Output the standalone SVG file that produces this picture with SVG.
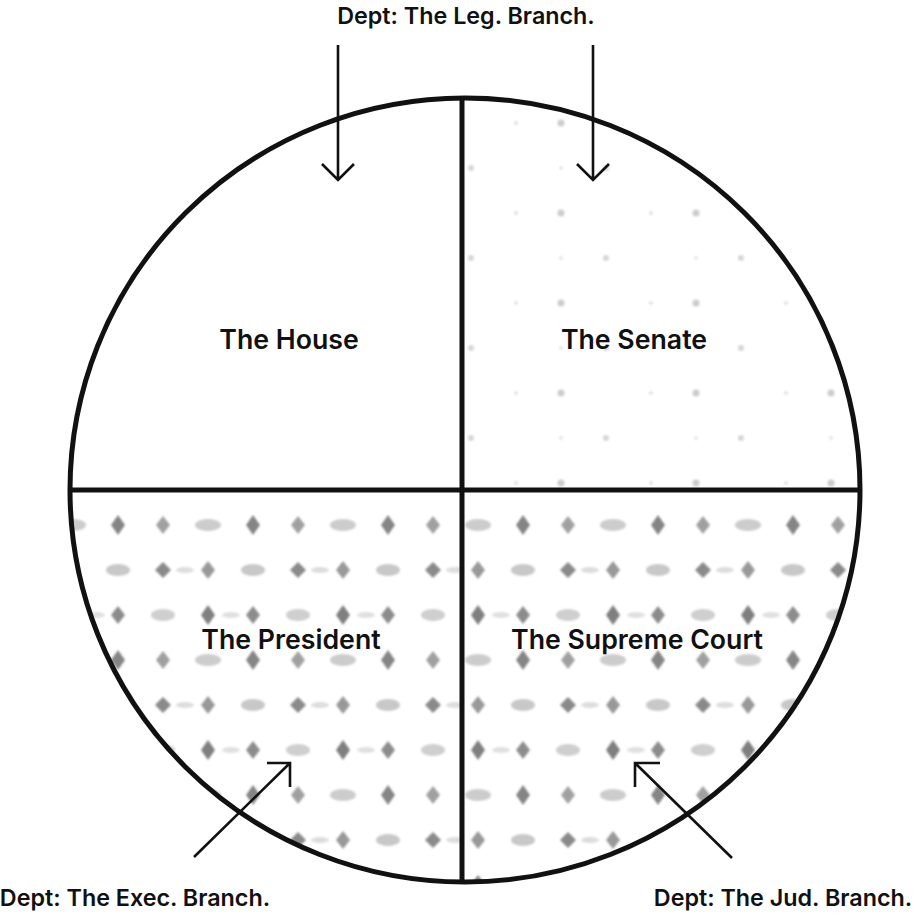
<svg xmlns="http://www.w3.org/2000/svg" width="917" height="913" viewBox="0 0 917 913">
<style>
.lbl{font-family:Inter,"Liberation Sans",sans-serif;font-size:23.3px;font-weight:600;fill:#111;text-anchor:middle}
.big{font-size:26.7px}
.edge{stroke:#111;stroke-width:2.6;fill:none;stroke-linecap:butt}
.div{stroke:#111;stroke-width:5;fill:none}
</style>
<defs>
<filter id="soft" x="-50%" y="-50%" width="200%" height="200%"><feGaussianBlur stdDeviation="1.3"/></filter>
<pattern id="dense" x="0" y="0" width="135" height="135" patternUnits="userSpaceOnUse">
<g filter="url(#soft)">
<path d="M28 22 L36 30 L28 38 L20 30 Z" fill="#8a8a8a"/>
<path d="M73 21 L80 30 L73 39 L66 30 Z" fill="#999"/>
<ellipse cx="118" cy="30" rx="12" ry="6" fill="#c8c8c8"/>
<ellipse cx="28" cy="75" rx="12" ry="6" fill="#cfcfcf"/>
<path d="M73 65 L80 75 L73 85 L66 75 Z" fill="#7f7f7f"/>
<path d="M118 66 L125 75 L118 84 L111 75 Z" fill="#8c8c8c"/>
<path d="M28 111 L35 120 L28 129 L21 120 Z" fill="#a0a0a0"/>
<ellipse cx="73" cy="120" rx="13" ry="6" fill="#cccccc"/>
<path d="M118 110 L125 120 L118 130 L111 120 Z" fill="#858585"/>
<ellipse cx="50" cy="30" rx="9" ry="3" fill="#dddddd"/>
<ellipse cx="96" cy="75" rx="9" ry="3" fill="#e0e0e0"/>
</g>
</pattern>
<pattern id="sparse" x="0" y="0" width="135" height="90" patternUnits="userSpaceOnUse">
<g filter="url(#soft)">
<circle cx="21" cy="33" r="3.5" fill="#cccccc"/>
<circle cx="111" cy="33" r="2" fill="#e2e2e2"/>
<circle cx="66" cy="78" r="3" fill="#d6d6d6"/>
<circle cx="21" cy="78" r="2" fill="#e6e6e6"/>
</g>
</pattern>
<clipPath id="circ"><ellipse cx="465" cy="490" rx="395" ry="392"/></clipPath>
</defs>
<g id="quadrant-house">
<text class="lbl big" x="289" y="349">The House</text>
</g>
<g id="quadrant-senate">
<rect x="462" y="90" width="410" height="400" fill="url(#sparse)" clip-path="url(#circ)"/>
<text class="lbl big" x="634" y="349">The Senate</text>
</g>
<g id="quadrant-president">
<rect x="60" y="490" width="402" height="400" fill="url(#dense)" clip-path="url(#circ)"/>
<text class="lbl big" x="291" y="649">The President</text>
</g>
<g id="quadrant-court">
<rect x="462" y="490" width="410" height="400" fill="url(#dense)" clip-path="url(#circ)"/>
<text class="lbl big" x="637" y="649">The Supreme Court</text>
</g>
<g id="circle">
<ellipse class="div" cx="465" cy="490" rx="395" ry="392"/>
<line class="div" x1="462" y1="98" x2="462" y2="882"/>
<line class="div" x1="70" y1="490" x2="860" y2="490"/>
</g>
<g id="label-leg"><text class="lbl" x="466" y="24">Dept: The Leg. Branch.</text></g>
<g id="label-exec"><text class="lbl" x="135" y="906">Dept: The Exec. Branch.</text></g>
<g id="label-jud"><text class="lbl" x="783" y="906">Dept: The Jud. Branch.</text></g>
<g id="connectors">
<path class="edge" d="M338 45 V180 M322 164 L338 180 L354 164"/>
<path class="edge" d="M593 45 V180 M577 164 L593 180 L609 164"/>
<path class="edge" d="M194 857 L290 763 M267 763 H290 V787"/>
<path class="edge" d="M732 858 L635 763 M660 763 H635 V787"/>
</g>
</svg>
